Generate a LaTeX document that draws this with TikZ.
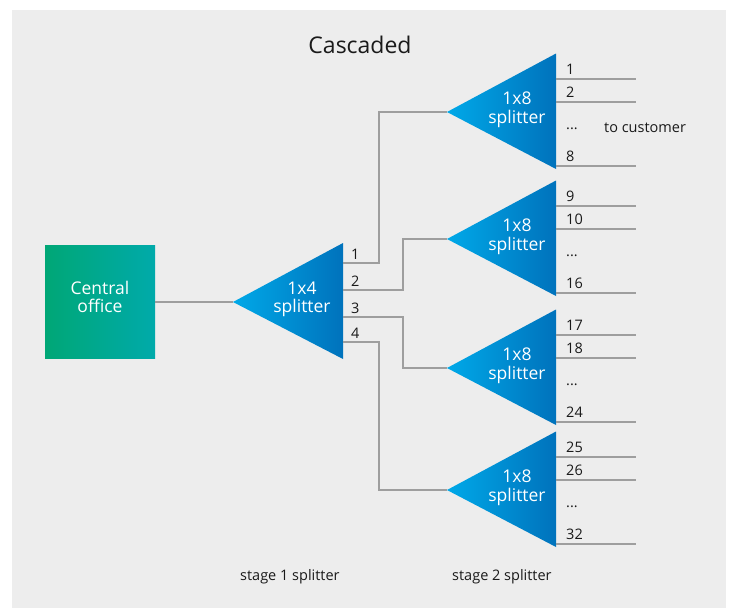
\documentclass[tikz,border=0pt]{standalone}
\usepackage{fontspec}
\setmainfont{Open Sans}
\usetikzlibrary{calc}
\definecolor{bggray}{HTML}{EDEDED}
\definecolor{linegray}{HTML}{9E9E9E}
\definecolor{cogreen}{HTML}{00A776}
\definecolor{coteal}{HTML}{00AAAA}
\definecolor{splitlight}{HTML}{00A9E8}
\definecolor{splitdark}{HTML}{0072BC}
\definecolor{txt}{HTML}{1A1A1A}
\tikzset{
  wire/.style={draw=linegray, line width=1.2pt},
  splitshade/.style={left color=splitlight, right color=splitdark},
  whitelabel/.style={text=white, font=\fontsize{17.5}{18.5}\selectfont, align=center, inner sep=0pt},
  portlabel/.style={text=txt, font=\fontsize{14.5}{16}\selectfont, inner sep=0pt, anchor=base west},
  caption/.style={text=txt, font=\fontsize{14.5}{16}\selectfont, inner sep=0pt, anchor=base west},
  cobox/.style={left color=cogreen, right color=coteal, minimum width=110pt, minimum height=113pt, inner sep=0pt, draw=none},
}
\begin{document}
\begin{tikzpicture}[x=1pt,y=-1pt]
\useasboundingbox (0,0) rectangle (730,608);
\fill[bggray] (12,10) rectangle (726,608);
% title
\node[text=txt, font=\fontsize{23}{27}\selectfont, inner sep=0pt, anchor=base] (title) at (360,53) {Cascaded};
% central office
\node[cobox] (co) at (100,302) {};
\node[whitelabel] (cotext) at (100,297) {Central\\office};
% stage 1 splitter
\shade[splitshade] (233,302) -- (343,243) -- (343,359) -- cycle;
\coordinate (s1) at (233,302);
\node[whitelabel] (s1text) at (302,299.5) {1x4\\splitter};
\draw[wire] (co.east) -- (s1);
\foreach \y/\n in {263/1,290/2,317/3,342/4}{
  \coordinate (p\n) at (343,\y);
  \node[portlabel] (pl\n) at (351,\y-4) {\n};
}
% stage 2 splitters
\foreach \t/\k/\a/\b/\c in {112/1/1/2/8, 239/2/9/10/16, 368/3/17/18/24, 490/4/25/26/32}{
  \shade[splitshade] (447,\t) -- (556,\t-58.5) -- (556,\t+57) -- cycle;
  \coordinate (t\k) at (447,\t);
  \node[whitelabel] (tt\k) at (517,\t-2) {1x8\\splitter};
  \coordinate (oa\k) at (556,\t-33);
  \coordinate (ob\k) at (556,\t-10);
  \coordinate (oc\k) at (556,\t+54);
  \coordinate (ea\k) at (636,\t-33);
  \coordinate (eb\k) at (636,\t-10);
  \coordinate (ec\k) at (636,\t+54);
  \draw[wire] (oa\k) -- (ea\k);
  \draw[wire] (ob\k) -- (eb\k);
  \draw[wire] (oc\k) -- (ec\k);
  \node[portlabel] (la\k) at (566,\t-37.5) {\a};
  \node[portlabel] (lb\k) at (566,\t-14.5) {\b};
  \node[portlabel] (ld\k) at (566,\t+17) {...};
  \node[portlabel] (lc\k) at (566,\t+49.5) {\c};
}
% stage 1 to stage 2 connectors
\draw[wire] (p1) -- ++(36,0) |- (t1);
\draw[wire] (p2) -- ++(60,0) |- (t2);
\draw[wire] (p3) -- ++(60,0) |- (t3);
\draw[wire] (p4) -- ++(36,0) |- (t4);
% captions
\node[caption] (cust) at (604,132) {to customer};
\node[caption] (st1) at (240,580) {stage 1 splitter};
\node[caption] (st2) at (452,580) {stage 2 splitter};
\end{tikzpicture}
\end{document}
